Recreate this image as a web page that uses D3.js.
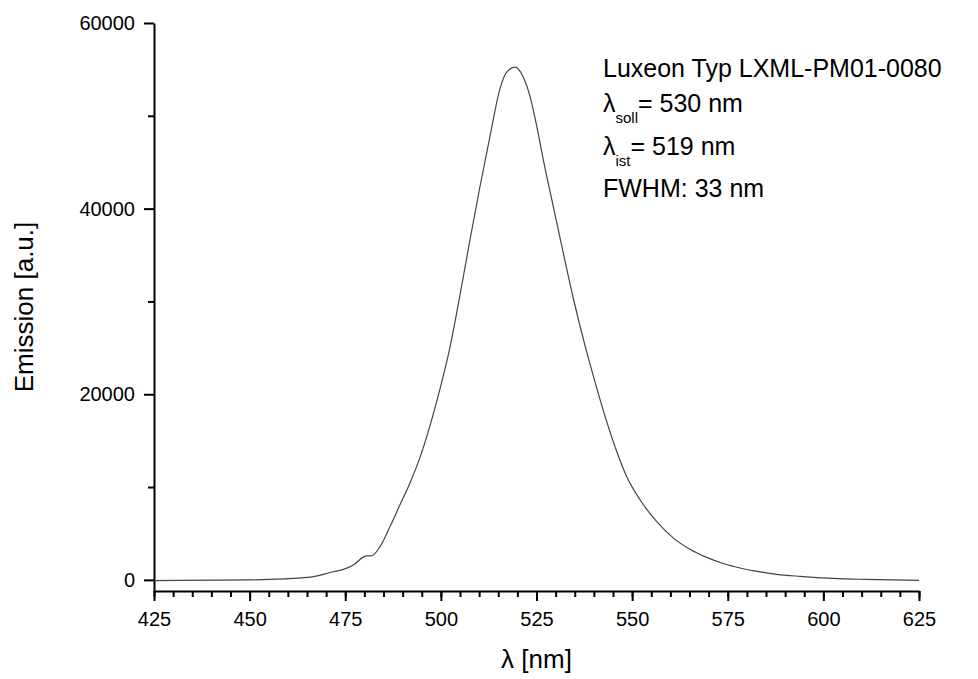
<!DOCTYPE html>
<html>
<head>
<meta charset="utf-8">
<script src="https://cdn.jsdelivr.net/npm/d3@7"></script>
<style>
  html, body { margin: 0; padding: 0; background: #fff; }
  svg { display: block; }
  text { font-family: "Liberation Sans", Arial, sans-serif; fill: #000; }
</style>
</head>
<body>
<svg id="chart" width="978" height="679"></svg>
<script>
// ---- data ----
const wavelength = [425, 450.1, 465.8, 471, 475.4, 477.5, 479.7, 480.6, 481.9, 484.1, 486.7, 489.3, 491.9, 494.5, 498.9, 502.4, 505, 507.6, 510.2, 512.8, 515.5, 517.2, 519.4, 521.5, 523.3, 525.1, 526.8, 529.4, 532, 534.6, 536.4, 538.1, 539.9, 541.6, 543.4, 546, 548.6, 552.1, 556.4, 560.8, 565.1, 569.5, 573.8, 578.2, 583.5, 587.8, 593.9, 602.5, 611.1, 625];
const emission   = [-75, 0, 290, 790, 1260, 1720, 2450, 2590, 2600, 3590, 5740, 8080, 10420, 13140, 19200, 25100, 30700, 36620, 42330, 47710, 52990, 54710, 55250, 54210, 52100, 48820, 45230, 40200, 35220, 30370, 27300, 24600, 21900, 19450, 17000, 13800, 11100, 8600, 6300, 4500, 3300, 2420, 1760, 1280, 860, 600, 380, 160, 50, -55];

const xTickValues = [425, 450, 475, 500, 525, 550, 575, 600, 625];
const xMinorTickValues = d3.range(425, 626, 5);
const yTickValues = [0, 20000, 40000, 60000];
const yMinorTickValues = [10000, 30000, 50000];

const xTitle = "λ [nm]";
const yTitle = "Emission [a.u.]";
const annoTitle = "Luxeon Typ LXML-PM01-0080";
const annoSoll = ["λ", "soll", "= 530 nm"];
const annoIst = ["λ", "ist", "= 519 nm"];
const annoFwhm = "FWHM: 33 nm";

// ---- layout ----
const svg = d3.select("#chart");
const mLeft = 154, mRight = 919, mTop = 23, mBottom = 591;

const x = d3.scaleLinear().domain([425, 625]).range([mLeft, mRight]);
const y = d3.scaleLinear().domain([-1200, 60000]).range([mBottom, mTop]);

// minor ticks
svg.append("g")
  .attr("transform", `translate(0,${mBottom})`)
  .call(d3.axisBottom(x).tickValues(xMinorTickValues).tickSize(6).tickSizeOuter(0).tickFormat(""))
  .call(g => g.select(".domain").remove())
  .call(g => g.selectAll("line").attr("stroke", "#000").attr("stroke-width", 2));

svg.append("g")
  .attr("transform", `translate(${mLeft},0)`)
  .call(d3.axisLeft(y).tickValues(yMinorTickValues).tickSize(6).tickSizeOuter(0).tickFormat(""))
  .call(g => g.select(".domain").remove())
  .call(g => g.selectAll("line").attr("stroke", "#000").attr("stroke-width", 2));

// major axes
const xAxis = svg.append("g")
  .attr("transform", `translate(0,${mBottom})`)
  .call(d3.axisBottom(x).tickValues(xTickValues).tickSize(10).tickSizeOuter(0).tickPadding(11).tickFormat(d3.format("d")));
xAxis.select(".domain").attr("stroke", "#000").attr("stroke-width", 2);
xAxis.selectAll("line").attr("stroke", "#000").attr("stroke-width", 2);
xAxis.selectAll("text").attr("font-size", 20).attr("font-family", "Liberation Sans, Arial, sans-serif").attr("fill", "#000");

const yAxis = svg.append("g")
  .attr("transform", `translate(${mLeft},0)`)
  .call(d3.axisLeft(y).tickValues(yTickValues).tickSize(10).tickSizeOuter(0).tickPadding(9).tickFormat(d3.format("d")));
yAxis.select(".domain").attr("stroke", "#000").attr("stroke-width", 2);
yAxis.selectAll("line").attr("stroke", "#000").attr("stroke-width", 2);
yAxis.selectAll("text").attr("font-size", 20).attr("font-family", "Liberation Sans, Arial, sans-serif").attr("fill", "#000");

// curve
const pts = wavelength.map((w, i) => [w, emission[i]]);
const line = d3.line().x(d => x(d[0])).y(d => y(d[1])).curve(d3.curveMonotoneX);
svg.append("path")
  .datum(pts)
  .attr("d", line)
  .attr("fill", "none")
  .attr("stroke", "#444")
  .attr("stroke-width", 1.2);

// axis titles
svg.append("text")
  .attr("x", (mLeft + mRight) / 2)
  .attr("y", 668)
  .attr("text-anchor", "middle")
  .attr("font-size", 26)
  .text(xTitle);

svg.append("text")
  .attr("transform", `translate(33,${(mTop + mBottom) / 2}) rotate(-90)`)
  .attr("text-anchor", "middle")
  .attr("font-size", 26)
  .text(yTitle);

// annotation
const ax = 603;
svg.append("text").attr("x", ax).attr("y", 77).attr("font-size", 25).text(annoTitle);

function subLine(parts, baseline) {
  const t = svg.append("text").attr("x", ax).attr("y", baseline).attr("font-size", 25);
  t.append("tspan").text(parts[0]);
  t.append("tspan").attr("font-size", 15).attr("dy", 11).text(parts[1]);
  t.append("tspan").attr("dy", -11).text(parts[2]);
}
subLine(annoSoll, 112);
subLine(annoIst, 155);
svg.append("text").attr("x", ax).attr("y", 197).attr("font-size", 25).text(annoFwhm);
</script>
</body>
</html>
